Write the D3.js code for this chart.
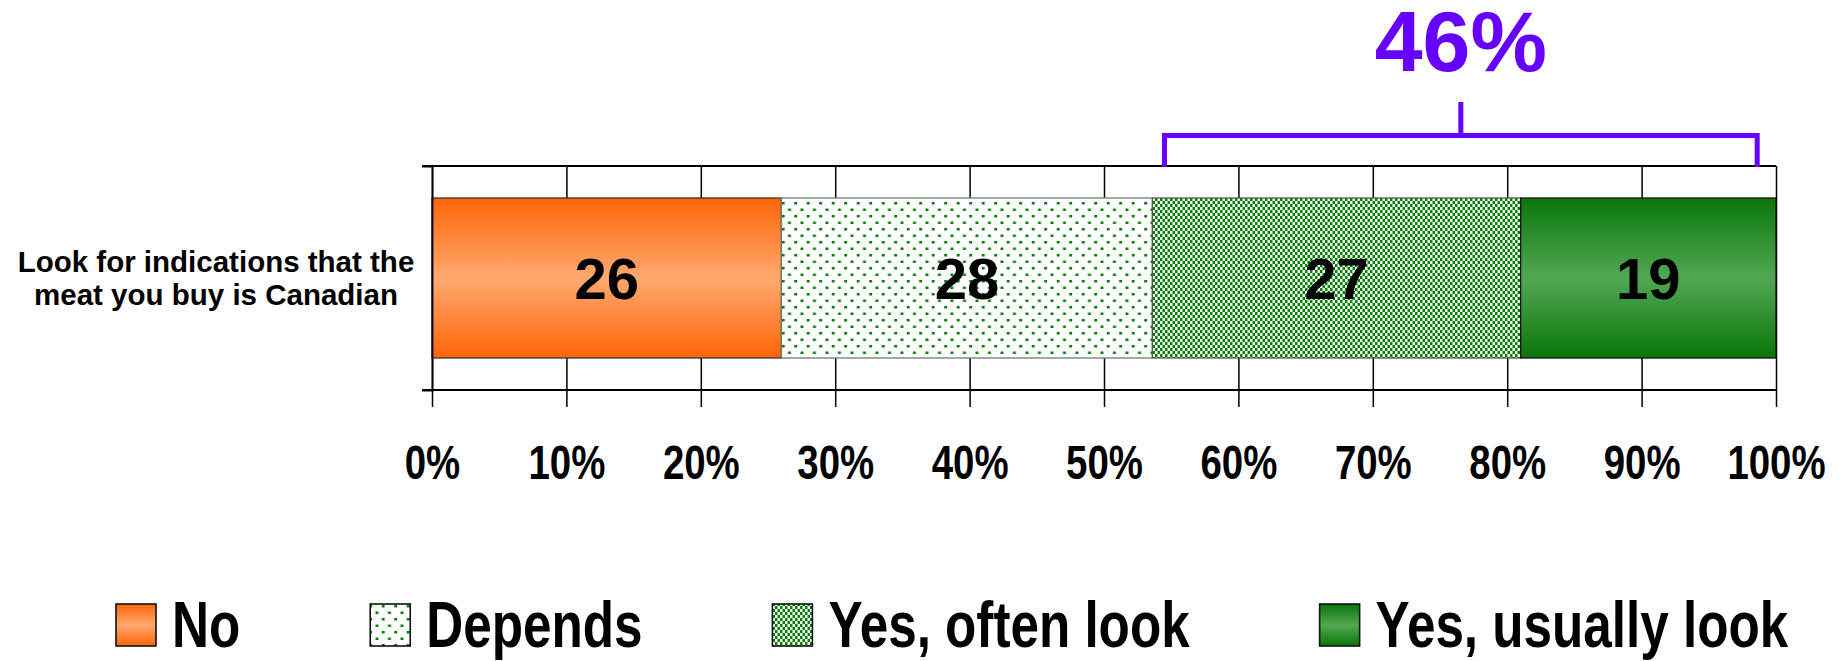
<!DOCTYPE html>
<html>
<head>
<meta charset="utf-8">
<script src="https://cdn.jsdelivr.net/npm/d3@7"></script>
<style>
  html, body { margin: 0; padding: 0; background: #fff; }
  svg { display: block; }
  text { font-family: "Liberation Sans", Arial, Helvetica, sans-serif; font-weight: bold; }
</style>
</head>
<body>
<svg id="chart" width="1839" height="661"></svg>
<script>
// ---------- data ----------
const categories = ["Look for indications that the meat you buy is Canadian"];
const categoryLines = [["Look for indications that the", "meat you buy is Canadian"]];
const seriesNames = ["No", "Depends", "Yes, often look", "Yes, usually look"];
const seriesValues = [26, 27.6, 27.4, 19];
const tickValues = [0, 10, 20, 30, 40, 50, 60, 70, 80, 90, 100];
const tickLabels = ["0%", "10%", "20%", "30%", "40%", "50%", "60%", "70%", "80%", "90%", "100%"];
const bracketRange = [54.5, 98.6];
const bracketLabel = "46%";

// ---------- setup ----------
const svg = d3.select("#chart");
const plot = { left: 432, right: 1776, top: 166, bottom: 390 };
const purple = "#6600FF";
const green = "#008000";

const x = d3.scaleLinear().domain([0, 100]).range([plot.left, plot.right]);
const y = d3.scaleBand().domain(categories).range([plot.top, plot.bottom]).padding(0.1667);

const defs = svg.append("defs");
function vGrad(id, edge, mid) {
  const g = defs.append("linearGradient").attr("id", id)
    .attr("x1", 0).attr("y1", 0).attr("x2", 0).attr("y2", 1);
  g.append("stop").attr("offset", "0%").attr("stop-color", edge);
  g.append("stop").attr("offset", "50%").attr("stop-color", mid);
  g.append("stop").attr("offset", "100%").attr("stop-color", edge);
}
vGrad("gOrange", "#FF6508", "#FFA970");
vGrad("gGreen", "#0B760B", "#52A852");

const pDots = defs.append("pattern").attr("id", "pDots").attr("patternUnits", "userSpaceOnUse")
  .attr("width", 12.5).attr("height", 13);
pDots.append("rect").attr("width", 12.5).attr("height", 13).attr("fill", "#fff");
pDots.append("rect").attr("x", 0.5).attr("y", 0.5).attr("width", 2.9).attr("height", 2.5).attr("fill", green);
pDots.append("rect").attr("x", 6.75).attr("y", 7).attr("width", 2.9).attr("height", 2.5).attr("fill", green);

const pCheck = defs.append("pattern").attr("id", "pCheck").attr("patternUnits", "userSpaceOnUse")
  .attr("width", 5).attr("height", 6);
pCheck.append("rect").attr("width", 5).attr("height", 6).attr("fill", "#fff");
pCheck.append("rect").attr("x", 0).attr("y", 0).attr("width", 2.5).attr("height", 3).attr("fill", green);
pCheck.append("rect").attr("x", 2.5).attr("y", 3).attr("width", 2.5).attr("height", 3).attr("fill", green);

const fills = ["url(#gOrange)", "url(#pDots)", "url(#pCheck)", "url(#gGreen)"];
const strokes = ["#333", "#777", "#555", "#111"];

// ---------- gridlines ----------
const grid = svg.append("g").attr("transform", `translate(0,${plot.bottom})`)
  .call(d3.axisBottom(x).tickValues(tickValues).tickSize(-(plot.bottom - plot.top)).tickFormat(""));
grid.select(".domain").remove();
grid.selectAll(".tick line").attr("stroke", "#000").attr("stroke-width", 1.5);

// horizontal lines at top/bottom of plot (extending to outer ticks)
svg.append("g").selectAll("line").data([plot.top, plot.bottom]).join("line")
  .attr("x1", plot.left - 10).attr("x2", plot.right)
  .attr("y1", d => d).attr("y2", d => d)
  .attr("stroke", "#000").attr("stroke-width", 2);

// ---------- bars ----------
const row = {}; seriesNames.forEach((s, i) => row[s] = seriesValues[i]);
const stacked = d3.stack().keys(seriesNames)([row]);

const barG = svg.append("g");
stacked.forEach((layer, i) => {
  const d = layer[0];
  barG.append("rect")
    .attr("x", x(d[0])).attr("y", y(categories[0]))
    .attr("width", x(d[1]) - x(d[0])).attr("height", y.bandwidth())
    .attr("fill", fills[i]).attr("stroke", strokes[i]).attr("stroke-width", 1.3);
});
stacked.forEach((layer, i) => {
  const d = layer[0];
  barG.append("text")
    .attr("x", (x(d[0]) + x(d[1])) / 2)
    .attr("y", y(categories[0]) + y.bandwidth() / 2)
    .attr("dy", "0.36em")
    .attr("text-anchor", "middle")
    .attr("font-size", 58)
    .attr("fill", "#000")
    .text(Math.round(seriesValues[i]));
});

// ---------- x axis ticks + labels ----------
const xAxis = svg.append("g").attr("transform", `translate(0,${plot.bottom})`)
  .call(d3.axisBottom(x).tickValues(tickValues).tickSize(17).tickSizeOuter(0).tickPadding(38)
    .tickFormat((d, i) => tickLabels[i]));
xAxis.select(".domain").remove();
xAxis.selectAll(".tick line").attr("stroke", "#000").attr("stroke-width", 1.5);
xAxis.selectAll(".tick text")
  .attr("font-size", 48).attr("fill", "#000")
  .attr("font-family", "'Liberation Sans', Arial, sans-serif").attr("font-weight", "bold")
  .attr("transform", "scale(0.8,1)");

// ---------- y axis ----------
const yAxis = svg.append("g").attr("transform", `translate(${plot.left},0)`)
  .call(d3.axisLeft(y).tickSizeInner(0).tickSizeOuter(10).tickFormat(""));
yAxis.select(".domain").attr("stroke", "#000").attr("stroke-width", 1.8);

// category label (two lines, centered)
const catY = y(categories[0]) + y.bandwidth() / 2;
const catX = 216;
const catText = svg.append("text")
  .attr("x", catX).attr("y", catY)
  .attr("text-anchor", "middle").attr("font-size", 29.5).attr("fill", "#000");
categoryLines[0].forEach((ln, i) => {
  catText.append("tspan").attr("x", catX).attr("y", catY - 6 + i * 33).text(ln);
});

// ---------- bracket ----------
const bx0 = x(bracketRange[0]), bx1 = x(bracketRange[1]), bmid = (bx0 + bx1) / 2;
const bY = 135.5, bBottom = 167, bStemTop = 102;
svg.append("path")
  .attr("d", `M${bx0},${bBottom}V${bY}H${bx1}V${bBottom}M${bmid},${bY}V${bStemTop}`)
  .attr("fill", "none").attr("stroke", purple).attr("stroke-width", 5);
svg.append("text")
  .attr("x", bmid).attr("y", 71).attr("text-anchor", "middle")
  .attr("font-size", 86).attr("fill", purple).text(bracketLabel);

// ---------- legend ----------
const legend = svg.append("g");
const legScale = 0.8;
const legBase = 647;
let lx = 116;
seriesNames.forEach((name, i) => {
  legend.append("rect").attr("x", lx).attr("y", legBase - 43).attr("width", 40).attr("height", 42)
    .attr("fill", fills[i]).attr("stroke", "#111").attr("stroke-width", 1.6);
  const tx = lx + 56;
  const t = legend.append("text")
    .attr("transform", `translate(${tx},${legBase}) scale(${legScale},1)`)
    .attr("font-size", 64).attr("fill", "#000").text(name);
  const w = t.node().getComputedTextLength() * legScale;
  lx = tx + w + 130;
});
</script>
</body>
</html>
